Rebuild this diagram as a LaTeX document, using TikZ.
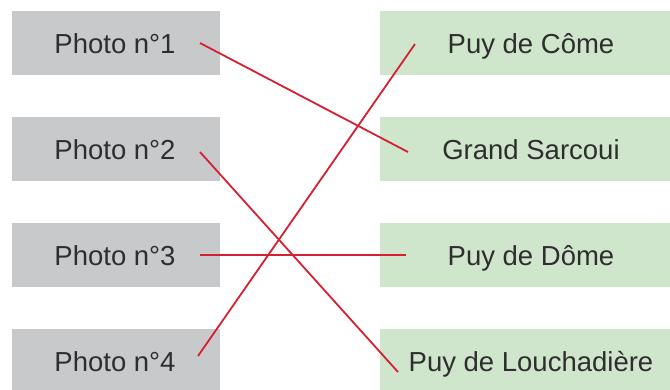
\documentclass[tikz,border=0pt]{standalone}
\usepackage{fontspec}
\setmainfont{Liberation Sans}
\definecolor{boxgray}{HTML}{C8C9CB}
\definecolor{boxgreen}{HTML}{D0E6CC}
\definecolor{linered}{HTML}{D42031}
\definecolor{txt}{HTML}{2E2E2E}
\begin{document}
\begin{tikzpicture}[x=1pt,y=-1pt,
  lbox/.style={fill=boxgray},
  rbox/.style={fill=boxgreen},
  lab/.style={text=txt,font=\fontsize{27.5}{31}\selectfont,anchor=base,inner sep=0pt},
  conn/.style={draw=linered,line width=1.8pt}]
\useasboundingbox (0,0) rectangle (670,389);
\foreach \i/\y in {1/11,2/117,3/223,4/329}{
  \fill[lbox] (12,\y) rectangle (220,\y+64);
  \fill[rbox] (380,\y) rectangle (682,\y+64);
}
\node[lab] (l1) at (115,53) {Photo n°1};
\node[lab] (l2) at (115,159) {Photo n°2};
\node[lab] (l3) at (115,265) {Photo n°3};
\node[lab] (l4) at (115,371) {Photo n°4};
\node[lab] (r1) at (531,53) {Puy de Côme};
\node[lab] (r2) at (531,159) {Grand Sarcoui};
\node[lab] (r3) at (531,265) {Puy de Dôme};
\node[lab] (r4) at (531,371) {Puy de Louchadière};
\coordinate (a1) at (200,43);
\coordinate (a2) at (200,152);
\coordinate (a3) at (200,255);
\coordinate (a4) at (198,356);
\coordinate (b1) at (415,44);
\coordinate (b2) at (408,152);
\coordinate (b3) at (406,255);
\coordinate (b4) at (398,372);
\draw[conn] (a1) -- (b2);
\draw[conn] (a2) -- (b4);
\draw[conn] (a3) -- (b3);
\draw[conn] (a4) -- (b1);
\end{tikzpicture}
\end{document}
